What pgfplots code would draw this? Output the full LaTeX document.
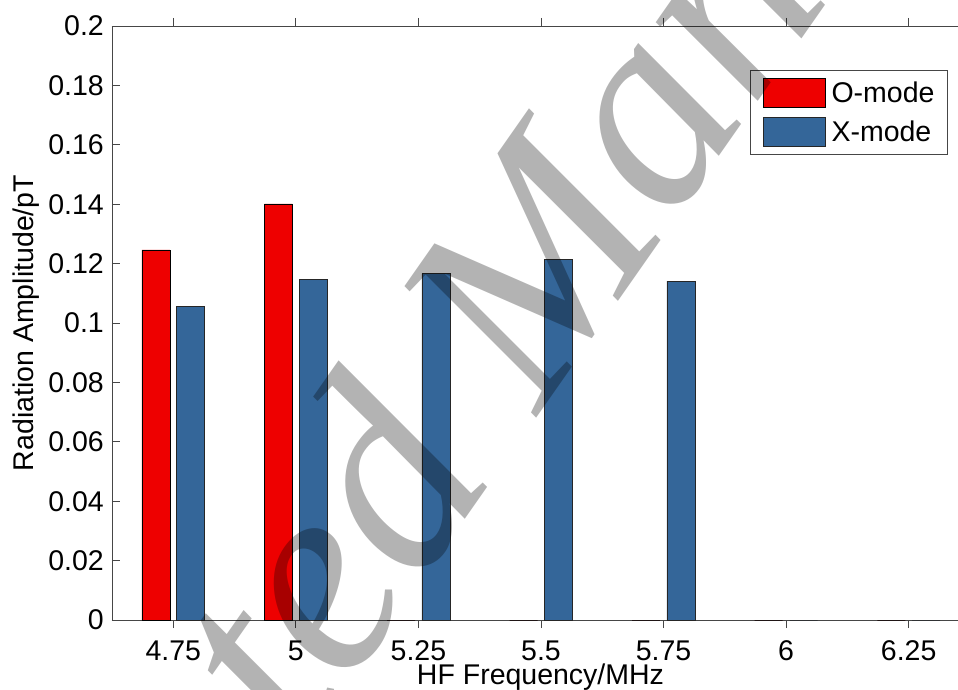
\documentclass[border=0pt]{standalone}
\usepackage{fontspec}
\setmainfont{Liberation Sans}
\newfontfamily\wmfont{Liberation Serif}
\usepackage{pgfplots}
\pgfplotsset{compat=1.18}
\definecolor{omode}{RGB}{238,0,0}
\definecolor{xmode}{RGB}{52,102,153}
\definecolor{axcol}{RGB}{70,70,70}
\definecolor{wm}{RGB}{179,179,179}
\begin{document}
\begin{tikzpicture}
\begin{axis}[
  scale only axis, width=846pt, height=594pt,
  xmin=4.625, xmax=6.3506, ymin=0, ymax=0.2,
  axis x line=box, axis y line=left,
  y axis line style={-},
  axis line style={axcol, line width=0.8pt},
  every tick/.style={axcol, line width=0.8pt},
  tick align=inside, major tick length=8pt,
  xtick={4.75,5,5.25,5.5,5.75,6,6.25},
  ytick={0,0.02,0.04,0.06,0.08,0.1,0.12,0.14,0.16,0.18,0.2},
  scaled ticks=false,
  tick label style={font=\fontsize{28.5}{30}\selectfont},
  /pgf/number format/assume math mode=true,
  xticklabel style={/pgf/number format/fixed, /pgf/number format/precision=2, anchor=base, yshift=-32pt},
  yticklabel style={/pgf/number format/fixed, /pgf/number format/precision=2, anchor=east, inner xsep=0pt, xshift=-8pt},
  xlabel={HF Frequency/MHz}, ylabel={Radiation Amplitude/pT},
  label style={font=\fontsize{28.5}{30}\selectfont},
  xlabel style={at={(axis description cs:0.5065,-0.1094)}, anchor=base},
  ylabel style={at={(axis description cs:-0.1017,0.5)}, anchor=center},
  ybar=6.8pt, bar width=28pt,
  legend cell align=left,
  legend style={at={(0.988,0.926)}, anchor=north east, draw=axcol, line width=0.8pt,
    font=\fontsize{28.5}{30}\selectfont, inner xsep=13pt, inner ysep=8pt,
    nodes={inner sep=0pt}, row sep=9pt,
    /tikz/every odd column/.append style={column sep=6pt}},
  legend image code/.code={\draw[#1,/tikz/.cd,line width=0.6pt] (0pt,-14.5pt) rectangle (62pt,14.5pt);},
]
\addplot[draw=black, fill=omode, line width=0.6pt] coordinates {
  (4.75,0.1246) (5,0.1401) (5.25,0) (5.5,0) (5.75,0) (6,0) (6.25,0)};
\addlegendentry{O-mode}
\addplot[draw=black!85, fill=xmode, line width=0.6pt] coordinates {
  (4.75,0.1055) (5,0.1147) (5.25,0.1166) (5.5,0.1215) (5.75,0.1141) (6,0) (6.25,0)};
\addlegendentry{X-mode}
\end{axis}
\begin{scope}[blend mode=multiply]
\node[rotate=55, text=wm, anchor=center, inner sep=0pt] at (427pt,323pt)
  {\wmfont\itshape\fontsize{280}{280}\selectfont Accepted Manuscript};
\end{scope}
\pgfresetboundingbox
\path[use as bounding box] (-112pt,-69pt) rectangle (846pt,620pt);
\end{tikzpicture}
\end{document}
